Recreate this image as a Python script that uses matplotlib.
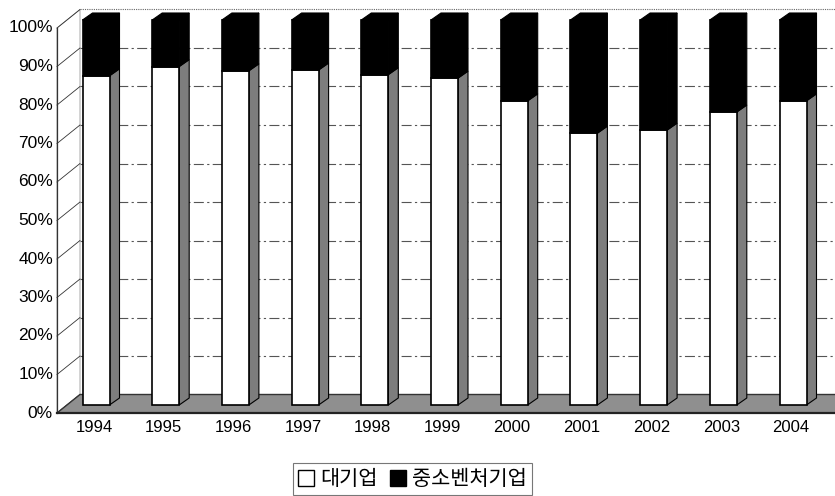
import matplotlib.pyplot as plt
from matplotlib.patches import Polygon, Rectangle

plt.rcParams['font.family'] = ['Liberation Sans', 'Noto Sans CJK KR', 'DejaVu Sans']

# data (share of large firms, %; rest is SME / venture firms)
years = ['1994', '1995', '1996', '1997', '1998', '1999', '2000', '2001', '2002', '2003', '2004']
large = [85.5, 87.9, 86.8, 87.0, 85.8, 84.9, 79.0, 70.6, 71.4, 76.1, 79.0]
small = [100 - v for v in large]
yticks = list(range(0, 101, 10))
legend_labels = ['대기업', '중소벤처기업']

W, H = 835, 496
fig = plt.figure(figsize=(W / 100, H / 100), dpi=100)
ax = fig.add_axes([0, 0, 1, 1])

# pixel scale of the bar plane
sx = 69.7   # px per category
sy = 3.85   # px per percent
x0_px, y0_px = 96, 405
ax.set_xlim(-x0_px / sx, (W - x0_px) / sx)
ax.set_ylim(-(H - y0_px) / sy, y0_px / sy)
ax.axis('off')


def px(dx, dy):
    return dx / sx, dy / sy


fdx, fdy = px(-10, -8)    # front plane offset
bdx, bdy = px(13, 10.5)   # back wall offset
ddx, ddy = px(10, 7)      # bar depth
xw = (67 - x0_px) / sx    # left wall x
xr = (845 - x0_px) / sx   # right end
w = 27 / sx               # bar width

# back wall + gridlines
ax.add_patch(Polygon([(xw + bdx, bdy), (xw + bdx, 100 + bdy), (xr + bdx, 100 + bdy), (xr + bdx, bdy)],
                     closed=True, facecolor='white', edgecolor='none', zorder=1))
for t in yticks[1:-1]:
    ax.plot([xw + bdx, xr + bdx], [t + bdy, t + bdy], color='#555555', lw=0.8,
            linestyle=(0, (9, 3, 2, 3)), zorder=1.5)
ax.plot([xw + bdx, xr + bdx], [100 + bdy, 100 + bdy], color='#666666', lw=0.8,
        linestyle=(0, (1, 1)), zorder=1.5)

# left wall
ax.add_patch(Polygon([(xw + fdx, fdy), (xw + fdx, 100 + fdy), (xw + bdx, 100 + bdy), (xw + bdx, bdy)],
                     closed=True, facecolor='white', edgecolor='#999999', lw=0.6, zorder=2))
for t in yticks:
    ax.plot([xw + fdx, xw + bdx], [t + fdy, t + bdy], color='#333333', lw=0.6, zorder=2.2)
ax.plot([xw + fdx, xw + fdx], [fdy, 100 + fdy], color='#333333', lw=0.9, zorder=2.3)

# floor
ax.add_patch(Polygon([(xw + fdx, fdy), (xw + bdx, bdy), (xr + bdx, bdy), (xr + fdx, fdy)],
                     closed=True, facecolor='#8f8f8f', edgecolor='#333333', lw=1.0, zorder=3))
ax.plot([xw + fdx, xr + fdx], [fdy, fdy], color='#222222', lw=1.6, zorder=3.1)

# bars
for i, (v, s) in enumerate(zip(large, small)):
    xl, xrb = i - w / 2, i + w / 2
    ax.add_patch(Rectangle((xl, 0), w, v, facecolor='white', edgecolor='black', lw=1.2, zorder=5))
    ax.add_patch(Rectangle((xl, v), w, s, facecolor='black', edgecolor='black', lw=1.2, zorder=5))
    ax.add_patch(Polygon([(xrb, 0), (xrb + ddx, ddy), (xrb + ddx, v + ddy), (xrb, v)],
                         closed=True, facecolor='#7d7d7d', edgecolor='black', lw=0.8, zorder=4))
    ax.add_patch(Polygon([(xrb, v), (xrb + ddx, v + ddy), (xrb + ddx, 100 + ddy), (xrb, 100)],
                         closed=True, facecolor='black', edgecolor='black', lw=0.8, zorder=4))
    ax.add_patch(Polygon([(xl, 100), (xl + ddx, 100 + ddy), (xrb + ddx, 100 + ddy), (xrb, 100)],
                         closed=True, facecolor='black', edgecolor='black', lw=0.8, zorder=4))
    ax.text(i - 0.03, -23 / sy, years[i], ha='center', va='center', fontsize=12, zorder=6)

# y tick labels on the front plane
for t in yticks:
    ax.text((53 - x0_px) / sx, t + fdy, f'{t}%', ha='right', va='center', fontsize=12.5)

handles = [Rectangle((0, 0), 1, 1, facecolor='white', edgecolor='black', lw=1.0),
           Rectangle((0, 0), 1, 1, facecolor='black', edgecolor='black', lw=1.0)]
leg = ax.legend(handles, legend_labels, loc='upper left', bbox_to_anchor=(293 / W, 1 - 463 / H),
                ncol=2, frameon=True, fancybox=False, handlelength=0.75,
                handleheight=0.75, handletextpad=0.3, columnspacing=0.6, borderpad=0.25,
                borderaxespad=0, prop={'family': ['Noto Sans CJK KR', 'DejaVu Sans'], 'size': 15})
leg.get_frame().set_edgecolor('#555555')
leg.get_frame().set_linewidth(0.8)

fig.savefig('out.png', dpi=100)
